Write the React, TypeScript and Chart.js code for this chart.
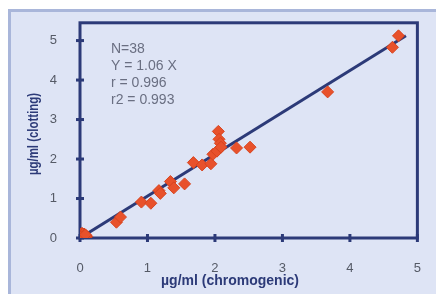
import React, { useEffect, useRef } from "react";
import { Chart, registerables } from "chart.js";

Chart.register(...registerables);

const zeroX = [0, 0.02, 0.04, 0.06, 0.08, 0.1, 0.03, 0.05, 0.07, 0.01, 0.09, 0.04, 0.06, 0.02, 0.08];
const zeroY = [0.05, 0.08, 0.03, 0.1, 0.06, 0.04, 0.12, 0.07, 0.02, 0.09, 0.05, 0.1, 0.06, 0.03, 0.08];
const mainX = [0.54, 0.6, 0.91, 1.05, 1.17, 1.19, 1.34, 1.39, 1.55, 1.68, 1.81, 1.94, 1.97, 2.03, 2.05, 2.06, 2.08, 2.09, 2.32, 2.52, 3.67, 4.63, 4.72];
const mainY = [0.4, 0.53, 0.91, 0.88, 1.2, 1.13, 1.43, 1.27, 1.37, 1.91, 1.85, 1.88, 2.12, 2.2, 2.7, 2.5, 2.4, 2.3, 2.28, 2.3, 3.7, 4.83, 5.12];
const fitX = [0, 4.83];
const slope = 1.06;
const xTicks = [0, 1, 2, 3, 4, 5];
const yTicks = [0, 1, 2, 3, 4, 5];
const statsText = ["N=38", "Y = 1.06 X", "r = 0.996", "r2 = 0.993"];
const xTitle = "µg/ml (chromogenic)";
const yTitle = "µg/ml (clotting)";

const NAVY = "#2c3a78";
const FONT = "'Liberation Sans', Arial, sans-serif";

export default function App() {
  const ref = useRef<HTMLCanvasElement | null>(null);
  useEffect(() => {
    if (!ref.current) return;
    const pts = [
      ...zeroX.map((x, i) => ({ x, y: zeroY[i] })),
      ...mainX.map((x, i) => ({ x, y: mainY[i] })),
    ];
    const framePlugin = {
      id: "frame",
      beforeDatasetsDraw(chart: any) {
        const { ctx, chartArea: a, scales } = chart;
        ctx.save();
        ctx.strokeStyle = NAVY;
        ctx.lineWidth = 3;
        ctx.strokeRect(a.left, a.top, a.right - a.left, a.bottom - a.top);
        ctx.fillStyle = NAVY;
        yTicks.forEach((v) => {
          const y = scales.y.getPixelForValue(v);
          ctx.fillRect(a.left - 4, y - 1.5, 8, 3);
        });
        xTicks.forEach((v) => {
          const x = scales.x.getPixelForValue(v);
          ctx.fillRect(x - 1.5, a.bottom - 4, 3, 8);
        });
        ctx.restore();
      },
      afterDraw(chart: any) {
        const { ctx } = chart;
        ctx.save();
        ctx.fillStyle = "#6a6f82";
        ctx.font = `14px ${FONT}`;
        ctx.textAlign = "left";
        ctx.textBaseline = "alphabetic";
        statsText.forEach((t, i) => ctx.fillText(t, 111, 53 + i * 17));
        ctx.fillStyle = NAVY;
        ctx.font = `bold 14px ${FONT}`;
        ctx.textAlign = "center";
        ctx.textBaseline = "middle";
        ctx.fillText(xTitle, 230, 281);
        ctx.translate(34, 134);
        ctx.rotate(-Math.PI / 2);
        ctx.scale(0.88, 1.1);
        ctx.font = `bold 13px ${FONT}`;
        ctx.fillText(yTitle, 0, 0);
        ctx.restore();
      },
    };
    const chart = new Chart(ref.current, {
      type: "scatter",
      data: {
        datasets: [
          {
            type: "line",
            data: fitX.map((x) => ({ x, y: x * slope })),
            borderColor: NAVY,
            borderWidth: 3,
            pointRadius: 0,
            order: 2,
          } as any,
          {
            data: pts,
            pointStyle: "rectRot",
            pointRadius: 6,
            backgroundColor: "#e8512b",
            borderColor: "#d7441f",
            borderWidth: 1,
            order: 1,
          },
        ],
      },
      options: {
        animation: false,
        responsive: false,
        layout: { padding: { left: 0, top: 20, right: 11, bottom: 0 } },
        plugins: { legend: { display: false }, tooltip: { enabled: false } },
        scales: {
          x: {
            type: "linear",
            min: 0,
            max: 5,
            grid: { display: false },
            border: { display: false },
            ticks: { padding: 15, color: "#555a66", font: { size: 13, family: FONT } },
            afterBuildTicks: (s: any) => {
              s.ticks = xTicks.map((v) => ({ value: v }));
            },
            afterFit: (s: any) => {
              s.height = 56;
            },
          },
          y: {
            type: "linear",
            min: 0,
            max: 5.45,
            grid: { display: false },
            border: { display: false },
            ticks: { padding: 15, color: "#555a66", font: { size: 13, family: FONT } },
            afterBuildTicks: (s: any) => {
              s.ticks = yTicks.map((v) => ({ value: v }));
            },
            afterFit: (s: any) => {
              s.width = 80;
            },
          },
        },
      },
      plugins: [framePlugin],
    });
    return () => chart.destroy();
  }, []);
  return (
    <div style={{ position: "fixed", left: 0, top: 0, width: 436, height: 294, background: "#ffffff", overflow: "hidden" }}>
      <div
        style={{
          position: "absolute",
          left: 8,
          top: 9,
          width: 440,
          height: 300,
          background: "#dee4f5",
          borderLeft: "3px solid #a9b6da",
          borderTop: "3px solid #a9b6da",
        }}
      />
      <canvas ref={ref} width={436} height={294} style={{ position: "absolute", left: 0, top: 0 }} />
    </div>
  );
}
